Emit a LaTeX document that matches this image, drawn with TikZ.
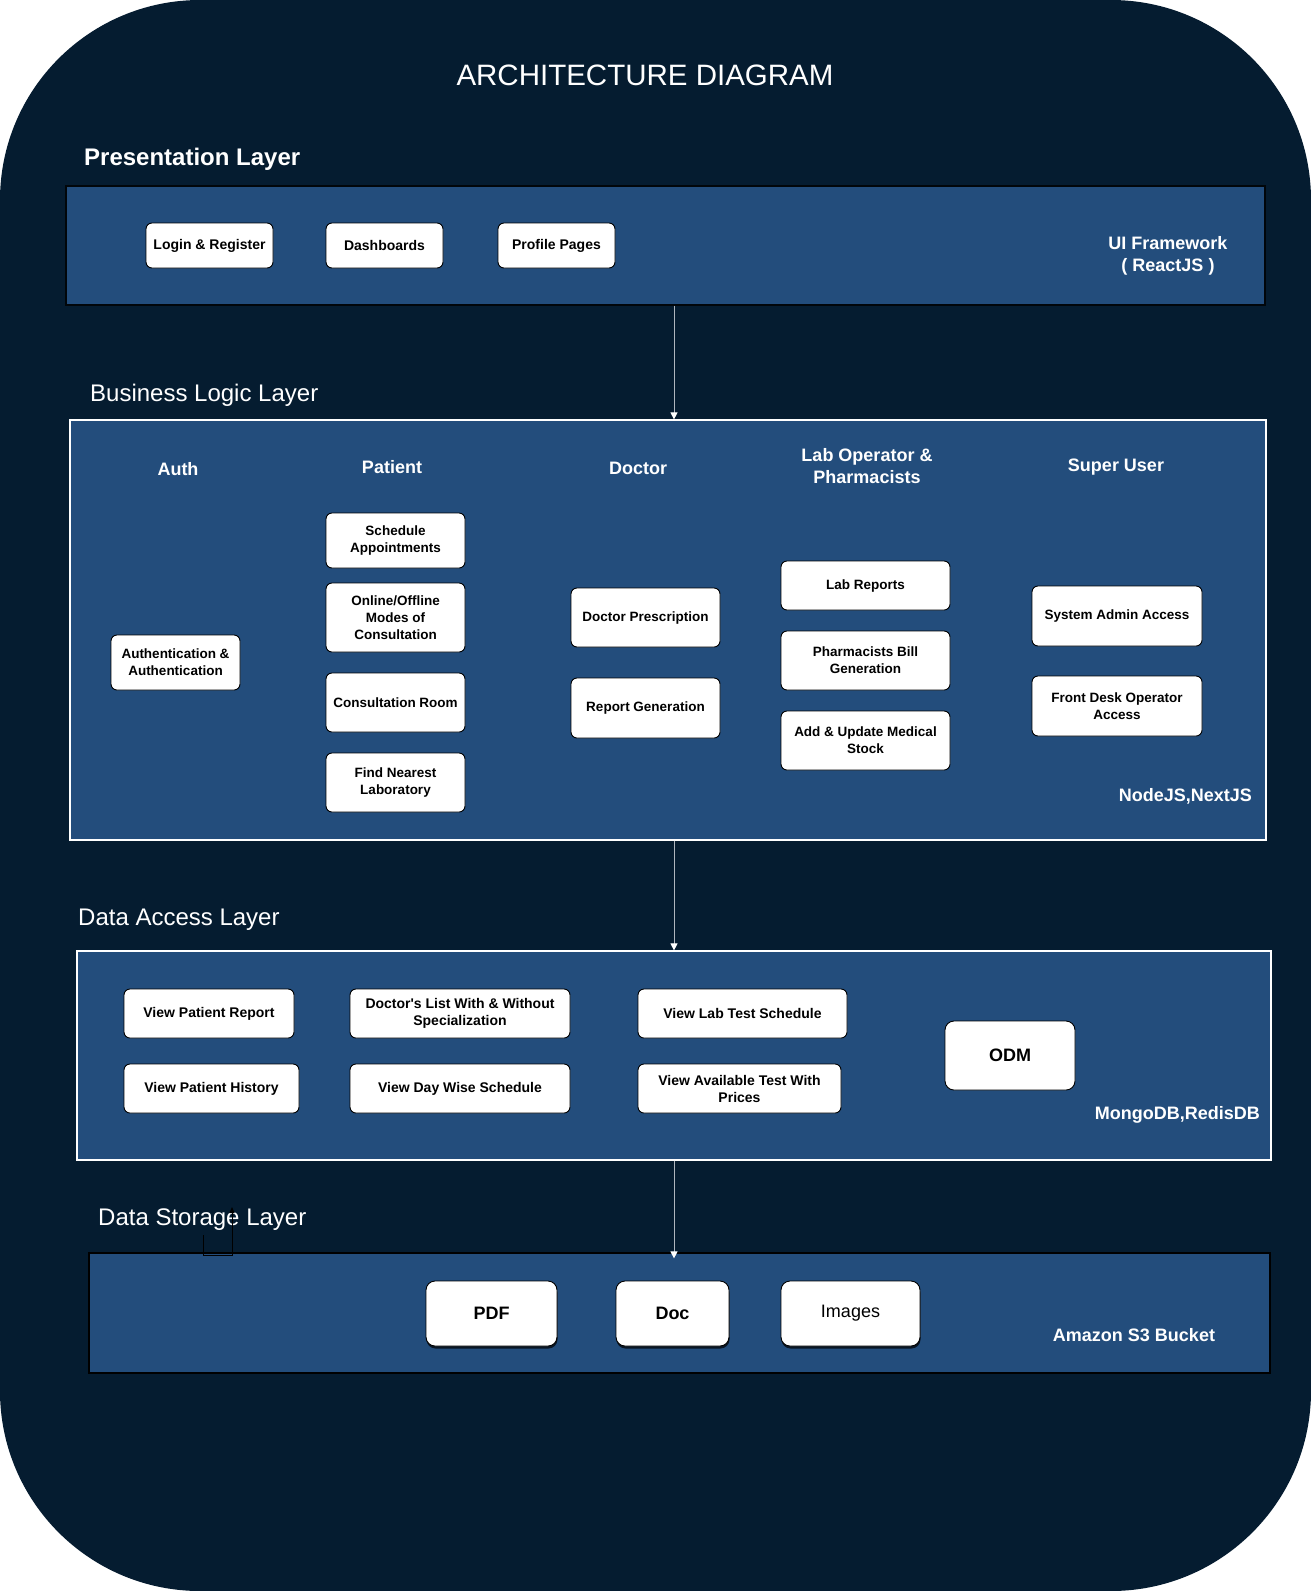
\documentclass[tikz,border=0pt]{standalone}
\usepackage{fontspec}
\setmainfont{Liberation Sans}[Ligatures=TeXOff]
\usetikzlibrary{arrows.meta,shadows}
\definecolor{bgdark}{RGB}{5,28,48}
\definecolor{layerblue}{RGB}{35,77,124}
\definecolor{flowgray}{RGB}{175,182,190}
\begin{document}
\begin{tikzpicture}[x=1pt,y=-1pt,
  layer/.style={fill=layerblue, line width=1.2pt, inner sep=0pt},
  box/.style={draw=black, fill=white, rounded corners=6pt, line width=0.9pt, align=center, inner sep=2pt, text=black},
  bfs/.style={font=\fontsize{13.5}{17}\selectfont\bfseries},
  bfm/.style={font=\fontsize{14}{17}\selectfont\bfseries},
  bigbox/.style={font=\fontsize{18}{22}\selectfont\bfseries},
  head/.style={text=white, align=center, font=\fontsize{18}{22}\selectfont\bfseries, inner sep=0pt},
  layername/.style={text=white, anchor=west, inner sep=0pt, font=\fontsize{24}{28}\selectfont},
  flow/.style={draw=flowgray, line width=1pt, -{Triangle[width=7pt,length=7pt,fill=white,color=white]}},
  shadowed/.style={drop shadow={shadow xshift=0.5pt, shadow yshift=-2.5pt, fill=black, opacity=0.7}}
]
\useasboundingbox (0,0) rectangle (1311,1591);
\fill[white] (0,0) rectangle (1311,1591);
\fill[bgdark, rounded corners=200pt] (0,0) rectangle (1311,1591);

% title
\node[text=white, font=\fontsize{29.5}{34}\selectfont, inner sep=0pt] (title) at (645,75) {ARCHITECTURE DIAGRAM};

% ---------------- Presentation layer
\node[layername, font=\fontsize{24}{28}\selectfont\bfseries] (plname) at (84,159) {Presentation Layer};
\node[layer, draw=black!80!bgdark, minimum width=1199pt, minimum height=119pt] (pl) at (665.5,245.5) {};
\node[box, bfm, minimum width=127pt, minimum height=45pt] (login) at (209.5,245.5) {Login \& Register};
\node[box, bfm, minimum width=117pt, minimum height=45pt] (dash) at (384.5,245.5) {Dashboards};
\node[box, bfm, minimum width=117pt, minimum height=45pt] (prof) at (556.5,245.5) {Profile Pages};
\node[head] (ui) at (1168,256) {UI Framework\\( ReactJS )};

% ---------------- Business logic layer
\node[layername] (blname) at (90,395) {Business Logic Layer};
\node[layer, draw=white, minimum width=1196pt, minimum height=420pt] (bl) at (668,630) {};
\node[head] (hauth) at (178,469) {Auth};
\node[head] (hpat) at (392,467) {Patient};
\node[head] (hdoc) at (638,468) {Doctor};
\node[head] (hlab) at (867,466) {Lab Operator \&\\Pharmacists};
\node[head] (hsup) at (1116,467) {Super User};

\node[box, bfs, minimum width=129pt, minimum height=55pt] (auth) at (175.5,662.5) {Authentication \&\\Authentication};
\node[box, bfs, minimum width=139pt, minimum height=55pt] (sched) at (395.5,540.5) {Schedule\\Appointments};
\node[box, bfs, minimum width=139pt, minimum height=69pt] (online) at (395.5,617.5) {Online/Offline\\Modes of\\Consultation};
\node[box, bfs, minimum width=139pt, minimum height=59pt] (consult) at (395.5,702.5) {Consultation Room};
\node[box, bfs, minimum width=139pt, minimum height=59pt] (findlab) at (395.5,782.5) {Find Nearest\\Laboratory};
\node[box, bfs, minimum width=149pt, minimum height=59pt] (docpres) at (645.5,617.5) {Doctor Prescription};
\node[box, bfs, minimum width=149pt, minimum height=60pt] (repgen) at (645.5,708) {Report Generation};
\node[box, bfs, minimum width=169pt, minimum height=49pt] (labrep) at (865.5,585.5) {Lab Reports};
\node[box, bfs, minimum width=169pt, minimum height=59pt] (pharm) at (865.5,660.5) {Pharmacists Bill\\Generation};
\node[box, bfs, minimum width=169pt, minimum height=59pt] (stock) at (865.5,740.5) {Add \& Update Medical\\Stock};
\node[box, bfs, minimum width=170pt, minimum height=60pt] (sysadm) at (1117,616) {System Admin Access};
\node[box, bfs, minimum width=170pt, minimum height=60pt] (front) at (1117,706) {Front Desk Operator\\Access};
\node[head, anchor=east] (node) at (1252,796) {NodeJS,NextJS};

% ---------------- Data access layer
\node[layername] (dalname) at (78,920) {Data Access Layer};
\node[layer, draw=white, minimum width=1194pt, minimum height=209pt] (dal) at (674,1055.5) {};
\node[box, bfm, minimum width=170pt, minimum height=49pt] (vpr) at (209,1013.5) {View Patient Report};
\node[box, bfm, minimum width=175pt, minimum height=49pt] (vph) at (211.5,1088.5) {View Patient History};
\node[box, bfm, minimum width=220pt, minimum height=49pt] (dlist) at (460,1013.5) {Doctor's List With \& Without\\Specialization};
\node[box, bfm, minimum width=220pt, minimum height=49pt] (vdws) at (460,1088.5) {View Day Wise Schedule};
\node[box, bfm, minimum width=209pt, minimum height=49pt] (vlts) at (742.5,1013.5) {View Lab Test Schedule};
\node[box, bfm, minimum width=203pt, minimum height=49pt] (vat) at (739.5,1088.5) {View Available Test With\\Prices};
\node[box, bigbox, rounded corners=9pt, minimum width=130pt, minimum height=69pt] (odm) at (1010,1055.5) {ODM};
\node[head, anchor=east] (mongo) at (1260,1115) {MongoDB,RedisDB};

% ---------------- Data storage layer
\node[layername] (dslname) at (98,1220) {Data Storage Layer};
\node[layer, draw=black, minimum width=1181pt, minimum height=120pt] (dsl) at (679.5,1313) {};
\node[box, bigbox, shadowed, rounded corners=9pt, minimum width=131pt, minimum height=65pt] (pdf) at (491.5,1313.5) {PDF};
\node[box, bigbox, shadowed, rounded corners=9pt, minimum width=113pt, minimum height=65pt] (doc) at (672.5,1313.5) {Doc};
\node[box, shadowed, rounded corners=9pt, font=\fontsize{18}{22}\selectfont, minimum width=139pt, minimum height=65pt] (img) at (850.5,1313.5) {Images};
\node[head] (s3) at (1134,1335) {Amazon S3 Bucket};

% ---------------- connectors
\coordinate (ax) at (674,0);
\draw[flow] (pl.south -| ax) -- (bl.north -| ax);
\draw[flow] (bl.south -| ax) -- (dal.north -| ax);
\draw[flow] (dal.south -| ax) -- ([yshift=-6pt]dsl.north -| ax);

% stray connector near the storage label
\coordinate (s1) at (203,1235);
\coordinate (s2) at (203,1255);
\coordinate (s3) at (232,1255);
\coordinate (s4) at (232,1207);
\draw[black, line width=0.9pt, -{Triangle[width=5pt,length=6pt]}] (s1) -- (s2) -- (s3) -- (s4);
\end{tikzpicture}
\end{document}
